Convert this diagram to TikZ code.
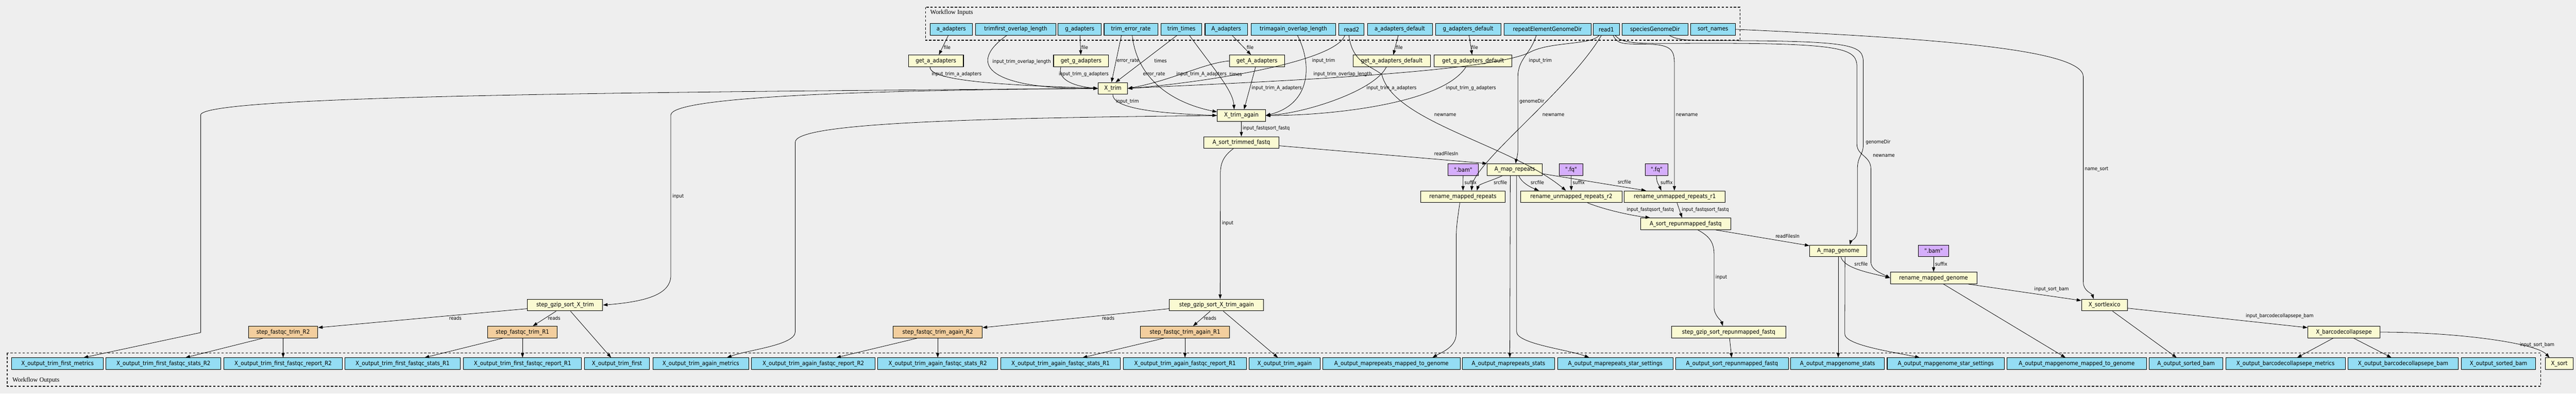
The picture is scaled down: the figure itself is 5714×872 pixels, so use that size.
\documentclass[tikz,border=0pt]{standalone}
\usepackage{fontspec}
\newfontfamily\nodefont{DejaVu Sans Condensed}
\newfontfamily\clusterfont{Liberation Serif}
\usetikzlibrary{arrows.meta}
\definecolor{bgcol}{HTML}{EEEEEE}
\definecolor{iocol}{HTML}{94DDF4}
\definecolor{stepcol}{HTML}{FAFAD2}
\definecolor{fqcol}{HTML}{F3CE9E}
\definecolor{defcol}{HTML}{D5AEFC}
\tikzset{
  box/.style={draw=black, line width=1.2pt, minimum height=26pt, inner sep=2pt,
    font=\nodefont\fontsize{13}{15}\selectfont},
  iobox/.style={box, fill=iocol},
  stepbox/.style={box, fill=stepcol},
  fqbox/.style={box, fill=fqcol},
  defbox/.style={box, fill=defcol},
  elabel/.style={anchor=west, inner sep=1pt, font=\nodefont\fontsize{11}{13}\selectfont},
  link/.style={-{Triangle[length=10pt,width=7pt]}, line width=0.9pt},
  clusterbox/.style={dash pattern=on 5pt off 4pt, line width=1.5pt}
}
\begin{document}
\begin{tikzpicture}[x=1pt,y=-1pt]
\useasboundingbox (0,0) rectangle (5714,872);
\fill[bgcol] (0,0) rectangle (5714,872);

\draw[clusterbox] (2053,16) rectangle (3860,89);
\node[anchor=west, font=\clusterfont\fontsize{14}{16}\selectfont] (lbl_in) at (2060,28) {Workflow Inputs};
\draw[clusterbox] (16,782) rectangle (5636,856);
\node[anchor=west, font=\clusterfont\fontsize{14}{16}\selectfont] (lbl_out) at (24,843) {Workflow Outputs};

\foreach \nm/\cx/\w/\txt in {in_a/2110/94/a\_adapters, in_tfol/2253/178/trimfirst\_overlap\_length,
    in_g/2395/96/g\_adapters, in_ter/2508.5/119/trim\_error\_rate, in_tt/2620.5/91/trim\_times,
    in_bigA/2720/94/A\_adapters, in_taol/2869/188/trimagain\_overlap\_length, in_r2/2998/56/read2,
    in_ad/3105/144/a\_adapters\_default, in_gd/3256.5/145/g\_adapters\_default,
    in_rep/3432.5/193/repeatElementGenomeDir, in_r1/3563/58/read1,
    in_sp/3671/146/speciesGenomeDir, in_sn/3799.5/99/sort\_names}
{
    \node[iobox, minimum width=\w pt] (\nm) at (\cx,65) {\txt};
}

\node[stepbox, minimum width=122pt] (get_a) at (2076,135) {get\_a\_adapters};
\node[stepbox, minimum width=122pt] (get_g) at (2398,135) {get\_g\_adapters};
\node[stepbox, minimum width=122pt] (get_bigA) at (2788,135) {get\_A\_adapters};
\node[stepbox, minimum width=172pt] (get_ad) at (3087,135) {get\_a\_adapters\_default};
\node[stepbox, minimum width=173pt] (get_gd) at (3267.5,135) {get\_g\_adapters\_default};
\node[stepbox, minimum width=65pt] (x_trim) at (2468.5,196) {X\_trim};
\node[stepbox, minimum width=107pt] (x_trim_again) at (2753.5,256) {X\_trim\_again};
\node[stepbox, minimum width=167pt] (a_sort_trimmed) at (2753.5,316) {A\_sort\_trimmed\_fastq};
\node[defbox, minimum width=67pt] (bam_rep) at (3245.5,376) {".bam"};
\node[stepbox, minimum width=122pt] (a_map_rep) at (3360,376) {A\_map\_repeats};
\node[defbox, minimum width=52pt] (fq_r2sfx) at (3485,376) {".fq"};
\node[defbox, minimum width=51pt] (fq_r1sfx) at (3674.5,376) {".fq"};
\node[stepbox, minimum width=188pt] (ren_mrep) at (3245,436) {rename\_mapped\_repeats};
\node[stepbox, minimum width=225pt] (ren_ur2) at (3485.5,436) {rename\_unmapped\_repeats\_r2};
\node[stepbox, minimum width=224pt] (ren_ur1) at (3715,436) {rename\_unmapped\_repeats\_r1};
\node[stepbox, minimum width=200pt] (a_sort_rep) at (3739,496) {A\_sort\_repunmapped\_fastq};
\node[stepbox, minimum width=127pt] (a_map_gen) at (4077.5,556) {A\_map\_genome};
\node[defbox, minimum width=68pt] (bam_gen) at (4289,556) {".bam"};
\node[stepbox, minimum width=192pt] (ren_mgen) at (4289,616) {rename\_mapped\_genome};
\node[stepbox, minimum width=102pt] (x_sortlex) at (4668,676) {X\_sortlexico};
\node[stepbox, minimum width=160pt] (x_barc) at (5199,736) {X\_barcodecollapsepe};
\node[stepbox, minimum width=62pt] (x_sort) at (5677,806) {X\_sort};
\node[stepbox, minimum width=167pt] (sort_x) at (1253.5,676) {step\_gzip\_sort\_X\_trim};
\node[fqbox, minimum width=154pt] (fq_r2) at (628,736) {step\_fastqc\_trim\_R2};
\node[fqbox, minimum width=154pt] (fq_r1) at (1159,736) {step\_fastqc\_trim\_R1};
\node[stepbox, minimum width=209pt] (sort_xa) at (2698.5,676) {step\_gzip\_sort\_X\_trim\_again};
\node[fqbox, minimum width=198pt] (fqa_r2) at (2080,736) {step\_fastqc\_trim\_again\_R2};
\node[fqbox, minimum width=197pt] (fqa_r1) at (2628.5,736) {step\_fastqc\_trim\_again\_R1};
\node[stepbox, minimum width=253pt] (sort_rep) at (3834.5,736) {step\_gzip\_sort\_repunmapped\_fastq};

\foreach \nm/\cx/\w/\txt in {out_first_metrics/127.5/203/X\_output\_trim\_first\_metrics,
    out_first_stats_r2/362.5/255/X\_output\_trim\_first\_fastqc\_stats\_R2,
    out_first_report_r2/628/262/X\_output\_trim\_first\_fastqc\_report\_R2,
    out_first_stats_r1/893/256/X\_output\_trim\_first\_fastqc\_stats\_R1,
    out_first_report_r1/1159/262/X\_output\_trim\_first\_fastqc\_report\_R1,
    out_first/1368.5/145/X\_output\_trim\_first,
    out_again_metrics/1554.5/213/X\_output\_trim\_again\_metrics,
    out_again_report_r2/1804/274/X\_output\_trim\_again\_fastqc\_report\_R2,
    out_again_stats_r2/2080/266/X\_output\_trim\_again\_fastqc\_stats\_R2,
    out_again_stats_r1/2352.5/265/X\_output\_trim\_again\_fastqc\_stats\_R1,
    out_again_report_r1/2628.5/273/X\_output\_trim\_again\_fastqc\_report\_R1,
    out_again/2849.5/157/X\_output\_trim\_again,
    out_mr_genome/3086.5/305/A\_output\_maprepeats\_mapped\_to\_genome,
    out_mr_stats/3346/204/A\_output\_maprepeats\_stats,
    out_mr_star/3583/256/A\_output\_maprepeats\_star\_settings,
    out_sort_rep/3842/250/A\_output\_sort\_repunmapped\_fastq,
    out_mg_stats/4076/208/A\_output\_mapgenome\_stats,
    out_mg_star/4316/260/A\_output\_mapgenome\_star\_settings,
    out_mg_genome/4606.5/309/A\_output\_mapgenome\_mapped\_to\_genome,
    out_a_sorted/4849/164/A\_output\_sorted\_bam,
    out_bc_metrics/5069.5/265/X\_output\_barcodecollapsepe\_metrics,
    out_bc_bam/5330.5/245/X\_output\_barcodecollapsepe\_bam,
    out_x_sorted/5542/164/X\_output\_sorted\_bam}
{
    \node[iobox, minimum width=\w pt] (\nm) at (\cx,806) {\txt};
}

\draw[link] (in_a) -- (get_a) node[elabel] at (2092,105) {file};
\draw[link] (in_g) -- (get_g) node[elabel] at (2397,105) {file};
\draw[link] (in_bigA) -- (get_bigA) node[elabel] at (2764,105) {file};
\draw[link] (in_ad) -- (get_ad) node[elabel] at (3095,105) {file};
\draw[link] (in_gd) -- (get_gd) node[elabel] at (3262,105) {file};

\draw[link] ([xshift=-20pt]in_tfol.south) .. controls (2140,145) and (2200,198) .. (x_trim.west) node[elabel] at (2200,137) {input\_trim\_overlap\_length};
\draw[link] ([xshift=-13pt]get_a.south) .. controls (2060,185) and (2300,190) .. (x_trim.west) node[elabel] at (2065,165) {input\_trim\_a\_adapters};
\draw[link] ([xshift=-45pt]get_g.south) .. controls (2345,180) and (2390,192) .. (x_trim.west) node[elabel] at (2347,165) {input\_trim\_g\_adapters};
\draw[link] ([xshift=-21pt]in_ter.south) -- ([xshift=-3pt]x_trim.north) node[elabel] at (2476,135) {error\_rate};
\draw[link] ([xshift=3pt]in_ter.south) .. controls (2522,175) and (2600,228) .. ([yshift=8pt]x_trim_again.west) node[elabel] at (2534,165) {error\_rate};
\draw[link] ([xshift=-10pt]in_tt.south) -- ([xshift=6pt]x_trim.north) node[elabel] at (2559,135) {times};
\draw[link] ([xshift=18pt]in_tt.south) .. controls (2690,150) and (2735,200) .. ([xshift=-16pt]x_trim_again.north) node[elabel] at (2726,165) {times};
\draw[link] (get_bigA.west) .. controls (2670,140) and (2600,178) .. (x_trim.east) node[elabel] at (2608,165) {input\_trim\_A\_adapters};
\draw[link] ([xshift=-3pt]get_bigA.south) -- ([xshift=6pt]x_trim_again.north) node[elabel] at (2775,195) {input\_trim\_A\_adapters};
\draw[link] ([xshift=9pt]in_taol.south) .. controls (2910,140) and (2910,230) .. (x_trim_again.east) node[elabel] at (2912,165) {input\_trim\_overlap\_length};
\draw[link] ([xshift=-15pt]in_r2.south) .. controls (2960,140) and (2650,185) .. (x_trim.east) node[elabel] at (2909,135) {input\_trim};
\draw[link] ([xshift=-12pt]get_ad.south) .. controls (3050,200) and (2900,250) .. (x_trim_again.east) node[elabel] at (3030,195) {input\_trim\_a\_adapters};
\draw[link] ([xshift=-16pt]get_gd.south) .. controls (3200,230) and (2950,256) .. (x_trim_again.east) node[elabel] at (3206,195) {input\_trim\_g\_adapters};
\draw[link] ([xshift=-16pt]in_r1.south) .. controls (3530,100) and (3440,92) .. (3395,115) .. controls (3300,165) and (2700,185) .. (x_trim.east) node[elabel] at (3390,135) {input\_trim};
\draw[link] ([xshift=-25pt]in_rep.south) .. controls (3395,120) and (3367,130) .. (3367,170) -- (3367,330) .. controls (3367,345) and (3363,355) .. ([xshift=2pt]a_map_rep.north) node[elabel] at (3369,225) {genomeDir};
\draw[link] ([xshift=-6pt]in_r2.south) .. controls (3000,140) and (3040,145) .. (3065,165) .. controls (3090,270) and (3350,320) .. ([xshift=-12pt]ren_ur2.north) node[elabel] at (3180,255) {newname};
\draw[link] ([xshift=-11pt]in_r1.south) .. controls (3480,200) and (3270,360) .. ([xshift=19pt]ren_mrep.north) node[elabel] at (3420,255) {newname};
\draw[link] ([xshift=15pt]in_r1.south) .. controls (3590,100) and (3600,97) .. (3660,98) .. controls (3705,100) and (3714,110) .. (3714,140) -- ([xshift=-1pt]ren_ur1.north) node[elabel] at (3716,255) {newname};
\draw[link] ([xshift=20pt]in_r1.south) .. controls (3600,100) and (3640,96) .. (3800,96) .. controls (4100,96) and (4119,110) .. (4119,150) -- (4119,320) .. controls (4119,345) and (4150,345) .. (4150,375) -- (4150,580) .. controls (4150,598) and (4170,604) .. (ren_mgen.west) node[elabel] at (4153,345) {newname};
\draw[link] ([xshift=32pt]in_sp.south) .. controls (3720,88) and (3740,90) .. (3800,90) .. controls (4120,90) and (4133,100) .. (4133,140) -- (4133,320) .. controls (4133,345) and (4120,345) .. (4120,375) -- (4120,510) .. controls (4120,530) and (4105,535) .. ([xshift=26pt]a_map_gen.north) node[elabel] at (4137,315) {genomeDir};
\draw[link] (in_sn.east) .. controls (4300,85) and (4621,110) .. (4621,170) -- (4621,625) .. controls (4621,645) and (4640,650) .. ([xshift=-24pt]x_sortlex.north) node[elabel] at (4623,375) {name\_sort};

\draw[link] (x_trim.south) .. controls (2468,245) and (2600,252) .. (x_trim_again.west) node[elabel] at (2474,225) {input\_trim};
\draw[link] (x_trim.west) .. controls (1400,204) and (445,212) .. (445,255) -- (445,737) -- ([xshift=58pt]out_first_metrics.north);
\draw[link] (x_trim.west) .. controls (1900,200) and (1488,215) .. (1488,255) -- (1488,610) .. controls (1488,650) and (1440,668) .. (sort_x.east) node[elabel] at (1490,435) {input};
\draw[link] (x_trim_again.west) .. controls (2100,262) and (1764,275) .. (1764,315) -- (1764,735) .. controls (1764,765) and (1660,775) .. ([xshift=58pt]out_again_metrics.north);
\draw[link] (x_trim_again) -- (a_sort_trimmed) node[elabel] at (2755,285) {input\_fastqsort\_fastq};
\draw[link] ([xshift=-18pt]a_sort_trimmed.south) .. controls (2715,345) and (2707,360) .. (2707,385) -- ([xshift=8pt]sort_xa.north) node[elabel] at (2709,495) {input};
\draw[link] ([yshift=-7pt]a_sort_trimmed.east) -- (a_map_rep.north west) node[elabel] at (3180,340) {readFilesIn};

\draw[link] (bam_rep) -- (ren_mrep) node[elabel] at (3247,405) {suffix};
\draw[link] ([xshift=-28pt]a_map_rep.south) .. controls (3310,400) and (3280,408) .. ([xshift=31pt]ren_mrep.north) node[elabel] at (3312,405) {srcfile};
\draw[link] ([xshift=9pt]a_map_rep.south) .. controls (3375,405) and (3395,415) .. ([xshift=-72pt]ren_ur2.north) node[elabel] at (3394,405) {srcfile};
\draw[link] (fq_r2sfx) -- (ren_ur2) node[elabel] at (3487,405) {suffix};
\draw[link] ([yshift=-9pt]a_map_rep.east) -- ([xshift=-64pt]ren_ur1.north) node[elabel] at (3587,403) {srcfile};
\draw[link] (fq_r1sfx) .. controls (3674,405) and (3680,410) .. ([xshift=-30pt]ren_ur1.north) node[elabel] at (3682,405) {suffix};
\draw[link] ([xshift=36pt]ren_ur2.south) .. controls (3560,465) and (3620,478) .. ([xshift=-79pt]a_sort_rep.north) node[elabel] at (3607,465) {input\_fastqsort\_fastq};
\draw[link] ([xshift=5pt]ren_ur1.south) -- ([xshift=-8pt]a_sort_rep.north) node[elabel] at (3729,465) {input\_fastqsort\_fastq};
\draw[link] ([xshift=67pt]a_sort_rep.south) -- ([yshift=-2pt]a_map_gen.north west) node[elabel] at (3937,523) {readFilesIn};
\draw[link] ([xshift=27pt]a_sort_rep.south) .. controls (3795,525) and (3802,540) .. (3802,565) -- (3802,680) .. controls (3802,700) and (3818,710) .. ([xshift=-13pt]sort_rep.north) node[elabel] at (3804,615) {input};
\draw[link] ([xshift=6pt]a_map_gen.south) .. controls (4090,595) and (4150,605) .. (ren_mgen.west) node[elabel] at (4112,585) {srcfile};
\draw[link] (bam_gen) -- (ren_mgen) node[elabel] at (4291,585) {suffix};
\draw[link] ([xshift=77pt]ren_mgen.south) -- ([yshift=10pt]x_sortlex.west) node[elabel] at (4511,641) {input\_sort\_bam};
\draw[link] ([yshift=-7pt]x_sortlex.east) -- ([yshift=10pt]x_barc.west) node[elabel] at (4980,701) {input\_barcodecollapsepe\_bam};
\draw[link] (x_barc.east) .. controls (5450,736) and (5625,760) .. ([xshift=-22pt]x_sort.north) node[elabel] at (5588,765) {input\_sort\_bam};

\draw[link] ([yshift=-8pt]sort_x.west) -- ([yshift=10pt]fq_r2.east) node[elabel] at (995,705) {reads};
\draw[link] ([xshift=-20pt]sort_x.south) -- ([xshift=23pt]fq_r1.north) node[elabel] at (1214,705) {reads};
\draw[link] ([xshift=12pt]sort_x.south) -- ([xshift=-13pt]out_first.north);
\draw[link] ([xshift=-45pt]fq_r2.south) -- ([xshift=49pt]out_first_stats_r2.north);
\draw[link] (fq_r2) -- (out_first_report_r2);
\draw[link] ([xshift=-44pt]fq_r1.south) -- ([xshift=49pt]out_first_stats_r1.north);
\draw[link] (fq_r1) -- (out_first_report_r1);
\draw[link] ([yshift=-8pt]sort_xa.west) -- ([yshift=10pt]fqa_r2.east) node[elabel] at (2443,705) {reads};
\draw[link] ([xshift=-14pt]sort_xa.south) -- ([xshift=18pt]fqa_r1.north) node[elabel] at (2669,705) {reads};
\draw[link] ([xshift=15pt]sort_xa.south) -- ([xshift=-15pt]out_again.north);
\draw[link] ([xshift=-46pt]fqa_r2.south) -- ([xshift=51pt]out_again_report_r2.north);
\draw[link] (fqa_r2) -- (out_again_stats_r2);
\draw[link] ([xshift=-47pt]fqa_r1.south) -- ([xshift=49pt]out_again_stats_r1.north);
\draw[link] (fqa_r1) -- (out_again_report_r1);

\draw[link] ([xshift=-7pt]ren_mrep.south) .. controls (3234,480) and (3230,500) .. (3230,530) -- (3230,740) .. controls (3230,770) and (3195,782) .. ([xshift=91pt]out_mr_genome.north);
\draw[link] ([xshift=-10pt]a_map_rep.south) -- ([xshift=3pt]out_mr_stats.north);
\draw[link] ([xshift=4pt]a_map_rep.south) -- (3364,735) .. controls (3364,762) and (3480,775) .. ([xshift=-58pt]out_mr_star.north);
\draw[link] ([xshift=2pt]sort_rep.south) -- ([xshift=-1pt]out_sort_rep.north);
\draw[link] (a_map_gen.south) -- ([xshift=1.5pt]out_mg_stats.north);
\draw[link] ([xshift=15pt]a_map_gen.south) -- (4092,740) .. controls (4092,765) and (4200,780) .. ([xshift=-58pt]out_mg_star.north);
\draw[link] ([xshift=22pt]ren_mgen.south) -- ([xshift=-25pt]out_mg_genome.north);
\draw[link] ([xshift=18pt]x_sortlex.south) -- ([xshift=-21pt]out_a_sorted.north);
\draw[link] ([xshift=-24pt]x_barc.south) -- ([xshift=26pt]out_bc_metrics.north);
\draw[link] ([xshift=22pt]x_barc.south) -- ([xshift=-26pt]out_bc_bam.north);
\end{tikzpicture}
\end{document}
